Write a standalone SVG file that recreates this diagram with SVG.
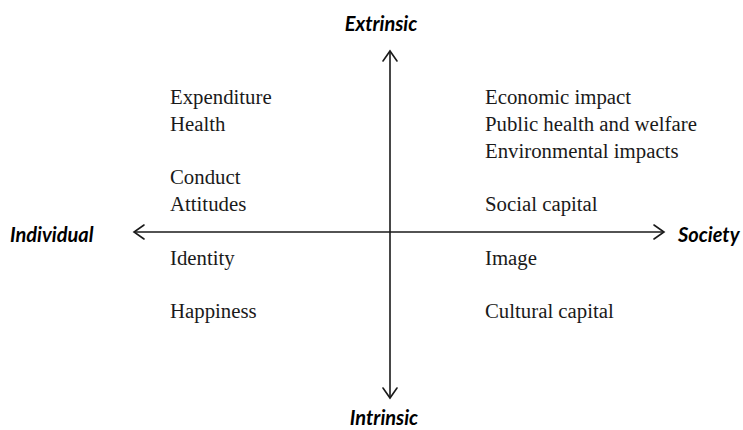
<svg xmlns="http://www.w3.org/2000/svg" width="743" height="430" viewBox="0 0 743 430">
  <style>
    .axis-label { font-family: Lato, "Open Sans", "Liberation Sans", sans-serif; font-weight: bold; font-style: italic; font-size: 20px; fill: #000; }
    .item { font-family: "Liberation Serif", "Times New Roman", serif; font-size: 20.8px; fill: #1a1a1a; }
    .axis { stroke: #1a1a1a; stroke-width: 1.6; fill: none; }
    .head { stroke: #1a1a1a; stroke-width: 1.6; fill: none; stroke-linecap: round; stroke-linejoin: miter; }
  </style>

  <!-- axes -->
  <g id="connectors">
    <line class="axis" x1="390" y1="51" x2="390" y2="398"/>
    <line class="axis" x1="134" y1="232" x2="664" y2="232"/>
    <polyline class="head" points="383,61 390,51 397,61"/>
    <polyline class="head" points="383,388 390,398 397,388"/>
    <polyline class="head" points="144,225 134,232 144,239"/>
    <polyline class="head" points="654,225 664,232 654,239"/>
  </g>

  <!-- axis end labels -->
  <g id="extrinsic"><text class="axis-label" x="381" y="31" text-anchor="middle">Extrinsic</text></g>
  <g id="intrinsic"><text class="axis-label" x="384" y="425" text-anchor="middle">Intrinsic</text></g>
  <g id="individual"><text class="axis-label" x="10" y="242">Individual</text></g>
  <g id="society"><text class="axis-label" x="678" y="242">Society</text></g>

  <!-- individual / extrinsic -->
  <g id="individual-extrinsic">
    <text class="item" x="170" y="104">Expenditure</text>
    <text class="item" x="170" y="131">Health</text>
    <text class="item" x="170" y="184">Conduct</text>
    <text class="item" x="170" y="211">Attitudes</text>
  </g>

  <!-- individual / intrinsic -->
  <g id="individual-intrinsic">
    <text class="item" x="170" y="265">Identity</text>
    <text class="item" x="170" y="318">Happiness</text>
  </g>

  <!-- society / extrinsic -->
  <g id="society-extrinsic">
    <text class="item" x="485" y="104">Economic impact</text>
    <text class="item" x="485" y="131">Public health and welfare</text>
    <text class="item" x="485" y="158">Environmental impacts</text>
    <text class="item" x="485" y="211">Social capital</text>
  </g>

  <!-- society / intrinsic -->
  <g id="society-intrinsic">
    <text class="item" x="485" y="265">Image</text>
    <text class="item" x="485" y="318">Cultural capital</text>
  </g>
</svg>
